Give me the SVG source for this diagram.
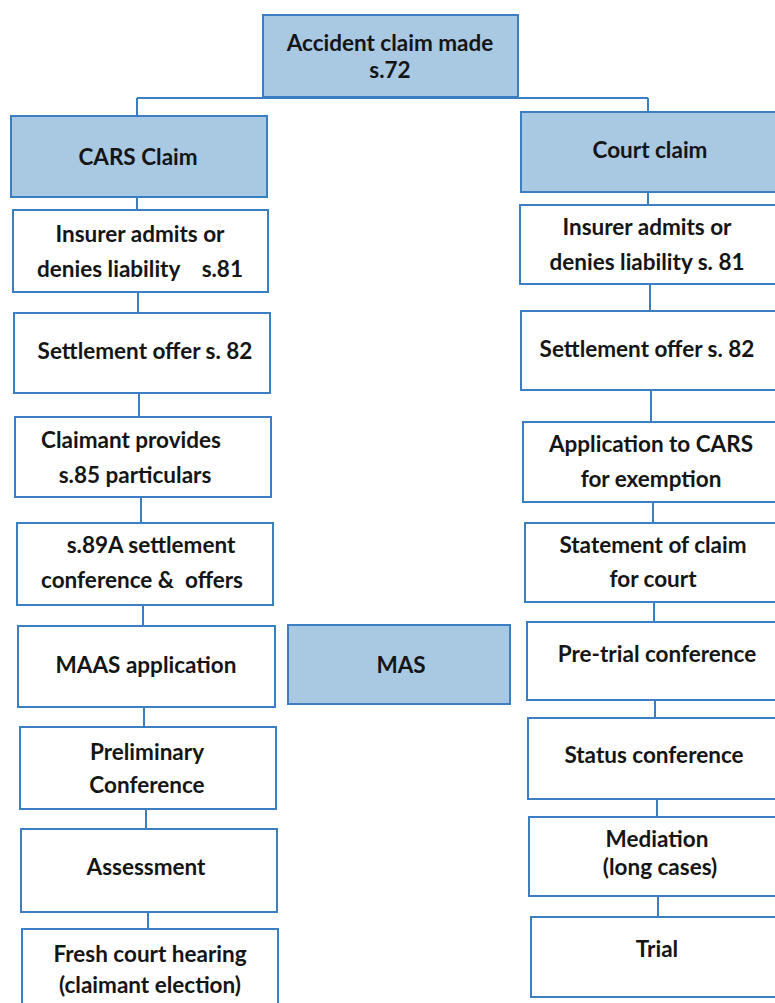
<svg xmlns="http://www.w3.org/2000/svg" width="775" height="1003" viewBox="0 0 775 1003">
<style>
.hdr{fill:#a9c8e2;stroke:#3b7ec2;stroke-width:2}
.box{fill:#ffffff;stroke:#3b7ec2;stroke-width:2}
.con{stroke:#3b7ec2;stroke-width:2;fill:none}
text{font-family:Lato,"Liberation Sans",sans-serif;font-weight:bold;font-size:22.5px;fill:#151515;text-anchor:middle}
</style>
<rect width="775" height="1003" fill="#ffffff"/>
<g id="connectors">
<path class="con" d="M137 98H648M137 98V116M648 98V112"/>
<path class="con" d="M137 197V210M138 292V313M139 393V417M141 497V523M143 605V626M144 707V727M146 809V829M148 912V929"/>
<path class="con" d="M648 192V205M650 284V311M651 390V422M653 502V523M654 602V622M655 700V718M657 799V817M658 896V917"/>
</g>
<g id="top"><rect class="hdr" x="263" y="15" width="255" height="82"/><text x="390" y="51">Accident claim made</text><text x="390" y="78">s.72</text></g>
<g id="cars"><rect class="hdr" x="11" y="116" width="256" height="81"/><text x="138" y="165">CARS Claim</text></g>
<g id="court"><rect class="hdr" x="521" y="112" width="270" height="80"/><text x="650" y="158">Court claim</text></g>
<g id="l1"><rect class="box" x="13" y="210" width="255" height="82"/><text x="140" y="242">Insurer admits or</text><text x="140" y="277" xml:space="preserve">denies liability    s.81</text></g>
<g id="l2"><rect class="box" x="14" y="313" width="256" height="80"/><text x="145" y="359">Settlement offer s. 82</text></g>
<g id="l3"><rect class="box" x="15" y="417" width="256" height="80"/><text x="131" y="448">Claimant provides</text><text x="135" y="483">s.85 particulars</text></g>
<g id="l4"><rect class="box" x="17" y="523" width="256" height="82"/><text x="151" y="553">s.89A settlement</text><text x="142" y="588" xml:space="preserve">conference &amp;  offers</text></g>
<g id="l5"><rect class="box" x="18" y="626" width="257" height="81"/><text x="146" y="673">MAAS application</text></g>
<g id="l6"><rect class="box" x="20" y="727" width="256" height="82"/><text x="147" y="760">Preliminary</text><text x="147" y="793">Conference</text></g>
<g id="l7"><rect class="box" x="21" y="829" width="256" height="83"/><text x="146" y="875">Assessment</text></g>
<g id="l8"><rect class="box" x="22" y="929" width="256" height="90"/><text x="150" y="962">Fresh court hearing</text><text x="150" y="993">(claimant election)</text></g>
<g id="mas"><rect class="hdr" x="288" y="625" width="222" height="79"/><text x="401" y="673">MAS</text></g>
<g id="r1"><rect class="box" x="520" y="205" width="270" height="79"/><text x="647" y="235">Insurer admits or</text><text x="647" y="270">denies liability s. 81</text></g>
<g id="r2"><rect class="box" x="521" y="311" width="270" height="79"/><text x="647" y="357">Settlement offer s. 82</text></g>
<g id="r3"><rect class="box" x="523" y="422" width="270" height="80"/><text x="651" y="452">Application to CARS</text><text x="651" y="487">for exemption</text></g>
<g id="r4"><rect class="box" x="525" y="523" width="270" height="79"/><text x="653" y="553">Statement of claim</text><text x="653" y="587">for court</text></g>
<g id="r5"><rect class="box" x="527" y="622" width="270" height="78"/><text x="657" y="662">Pre-trial conference</text></g>
<g id="r6"><rect class="box" x="528" y="718" width="270" height="81"/><text x="654" y="763">Status conference</text></g>
<g id="r7"><rect class="box" x="529" y="817" width="270" height="79"/><text x="657" y="847">Mediation</text><text x="660" y="875">(long cases)</text></g>
<g id="r8"><rect class="box" x="531" y="917" width="270" height="80"/><text x="657" y="957">Trial</text></g>
</svg>
